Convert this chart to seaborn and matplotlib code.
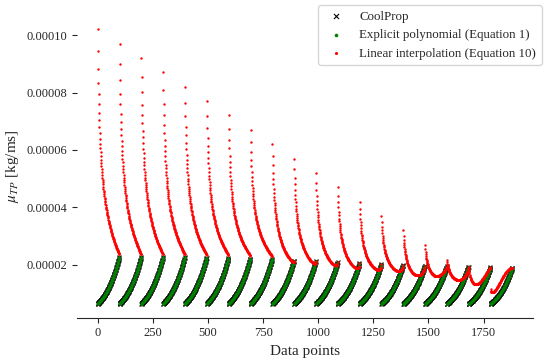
import numpy as np
import pandas as pd
import seaborn as sns
import matplotlib.pyplot as plt
from matplotlib.ticker import FormatStrFormatter

# 19 blocks of 99 data points (one block per pressure level)
pts_per_block = 99

# first / last value of each red block [kg/ms]
red_top = [0.000102, 0.000097, 0.000092, 0.000087, 0.000082, 0.000077, 0.0000721,
           0.0000671, 0.000062, 0.000057, 0.000052, 0.000047, 0.000042, 0.000037,
           0.000032, 0.000027, 0.0000218, 0.0000194, 0.0000117]
red_end = [0.0000236, 0.0000236, 0.0000236, 0.0000236, 0.0000235, 0.0000234, 0.0000232,
           0.000023, 0.0000215, 0.0000212, 0.0000209, 0.0000205, 0.0000202, 0.00002,
           0.0000197, 0.0000195, 0.0000194, 0.0000191, 0.000019]
# sag below the end value in the later blocks, and where in the block it is lowest
red_dip = [0, 0, 0, 0, 0, 0, 0, 0, 0.0000015, 0.000002, 0.0000025, 0.000003,
           0.0000032, 0.0000035, 0.0000048, 0.0000046, 0.000005, 0.000006, 0.0000054]
red_dip_pos = [0.6, 0.6, 0.6, 0.6, 0.6, 0.6, 0.6, 0.6, 0.6, 0.6, 0.6, 0.6,
               0.6, 0.55, 0.5, 0.42, 0.49, 0.32, 0.2]

# first / last value of each CoolProp block [kg/ms]
cp_start = [0.0000064] * 19
cp_end = [0.0000226, 0.0000226, 0.0000226, 0.0000226, 0.0000225, 0.0000224, 0.0000222,
          0.000022, 0.0000215, 0.0000212, 0.0000209, 0.0000205, 0.0000202, 0.00002,
          0.0000197, 0.0000195, 0.0000194, 0.0000191, 0.000019]

# build the three series block by block
q = np.arange(pts_per_block) / (pts_per_block - 1)
rows = []
for k in range(len(red_top)):
    idx = k * pts_per_block + np.arange(pts_per_block)
    cp = cp_start[k] + (cp_end[k] - cp_start[k]) * (q + q ** 2.5) / 2
    w = (1 - q) / np.sqrt(1 + 20 * q)
    s0 = red_dip_pos[k]
    a = 0.6
    b = a * (1 - s0) / s0
    sag = (q ** a * (1 - q) ** b) / (s0 ** a * (1 - s0) ** b)
    lin = red_end[k] + (red_top[k] - red_end[k]) * w - red_dip[k] * sag
    rows.append(pd.DataFrame({'idx': idx, 'coolprop': cp, 'poly': cp, 'linear': lin}))
df = pd.concat(rows, ignore_index=True)

sns.set_style('ticks')
plt.rcParams['font.family'] = ['Liberation Serif', 'DejaVu Serif']
plt.rcParams['mathtext.fontset'] = 'stix'

fig, ax = plt.subplots(figsize=(5.5, 3.63), dpi=100)
fig.subplots_adjust(left=0.14, right=0.969, bottom=0.125, top=0.957)

sns.scatterplot(data=df, x='idx', y='coolprop', ax=ax, marker='x', color='black',
                s=8, linewidth=0.8, label='CoolProp')
sns.scatterplot(data=df, x='idx', y='poly', ax=ax, marker='o', color='green',
                s=4, linewidth=0, label='Explicit polynomial (Equation 1)')
sns.scatterplot(data=df, x='idx', y='linear', ax=ax, marker='o', color='red',
                s=3, linewidth=0, label='Linear interpolation (Equation 10)')

ax.set_yticks([0.00002, 0.00004, 0.00006, 0.00008, 0.00010])
ax.yaxis.set_major_formatter(FormatStrFormatter('%.5f'))
ax.tick_params(labelsize=9)

ax.set_xlabel('Data points', fontsize=11)
ax.set_ylabel(r'$\mu_{TP}$ [kg/ms]', fontsize=11)

sns.despine(ax=ax, left=True)

ax.legend(loc='upper right', bbox_to_anchor=(1.033, 1.055), fontsize=9.3, markerscale=1.3)

plt.savefig('out.png', dpi=100)
